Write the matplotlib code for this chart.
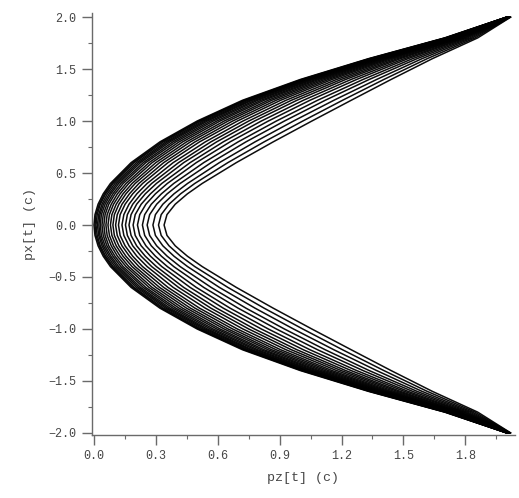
import numpy as np
import matplotlib
matplotlib.use("Agg")
import matplotlib.pyplot as plt
from matplotlib.ticker import MultipleLocator

# |px| sample positions (upper branch); lower branch mirrors them
px_abs = [0.0, 0.1, 0.2, 0.3, 0.4, 0.6, 0.8, 1.0, 1.2, 1.4, 1.6, 1.8, 2.0]

# pz values of each trajectory at the px_abs positions (outer -> inner)
curve_01 = [0.000, 0.005, 0.020, 0.045, 0.080, 0.180, 0.320, 0.500, 0.720, 1.000, 1.330, 1.700, 2.000]
curve_02 = [0.005, 0.010, 0.026, 0.051, 0.087, 0.188, 0.328, 0.508, 0.728, 1.007, 1.335, 1.702, 2.000]
curve_03 = [0.010, 0.016, 0.031, 0.057, 0.093, 0.195, 0.337, 0.517, 0.736, 1.013, 1.339, 1.705, 2.001]
curve_04 = [0.017, 0.023, 0.039, 0.065, 0.102, 0.206, 0.348, 0.528, 0.746, 1.022, 1.346, 1.708, 2.001]
curve_05 = [0.024, 0.029, 0.046, 0.074, 0.111, 0.216, 0.358, 0.539, 0.757, 1.031, 1.352, 1.711, 2.001]
curve_06 = [0.031, 0.036, 0.054, 0.082, 0.120, 0.226, 0.369, 0.550, 0.767, 1.040, 1.358, 1.714, 2.002]
curve_07 = [0.039, 0.045, 0.063, 0.092, 0.131, 0.239, 0.383, 0.564, 0.781, 1.051, 1.366, 1.718, 2.002]
curve_08 = [0.048, 0.054, 0.072, 0.102, 0.142, 0.251, 0.397, 0.578, 0.794, 1.062, 1.373, 1.722, 2.003]
curve_09 = [0.058, 0.064, 0.084, 0.114, 0.156, 0.267, 0.413, 0.595, 0.810, 1.075, 1.383, 1.727, 2.003]
curve_10 = [0.068, 0.075, 0.095, 0.127, 0.169, 0.282, 0.430, 0.611, 0.825, 1.088, 1.392, 1.732, 2.004]
curve_11 = [0.080, 0.087, 0.108, 0.141, 0.185, 0.300, 0.449, 0.631, 0.844, 1.103, 1.403, 1.738, 2.005]
curve_12 = [0.092, 0.099, 0.121, 0.155, 0.200, 0.318, 0.468, 0.650, 0.862, 1.119, 1.414, 1.743, 2.005]
curve_13 = [0.105, 0.113, 0.136, 0.172, 0.218, 0.338, 0.490, 0.672, 0.883, 1.136, 1.426, 1.750, 2.006]
curve_14 = [0.119, 0.127, 0.151, 0.188, 0.236, 0.359, 0.512, 0.695, 0.905, 1.154, 1.439, 1.756, 2.007]
curve_15 = [0.136, 0.145, 0.170, 0.208, 0.258, 0.384, 0.540, 0.722, 0.931, 1.176, 1.454, 1.764, 2.008]
curve_16 = [0.153, 0.162, 0.188, 0.229, 0.280, 0.410, 0.567, 0.750, 0.957, 1.198, 1.470, 1.772, 2.009]
curve_17 = [0.170, 0.180, 0.207, 0.249, 0.303, 0.435, 0.595, 0.778, 0.984, 1.220, 1.485, 1.780, 2.010]
curve_18 = [0.190, 0.200, 0.229, 0.274, 0.329, 0.466, 0.627, 0.811, 1.015, 1.246, 1.504, 1.790, 2.011]
curve_19 = [0.211, 0.222, 0.252, 0.298, 0.356, 0.496, 0.660, 0.845, 1.047, 1.273, 1.522, 1.799, 2.012]
curve_20 = [0.235, 0.246, 0.278, 0.327, 0.387, 0.532, 0.699, 0.884, 1.084, 1.304, 1.544, 1.810, 2.014]
curve_21 = [0.258, 0.270, 0.304, 0.355, 0.418, 0.568, 0.737, 0.923, 1.121, 1.334, 1.566, 1.822, 2.015]
curve_22 = [0.286, 0.298, 0.334, 0.388, 0.454, 0.608, 0.781, 0.967, 1.163, 1.370, 1.590, 1.834, 2.017]
curve_23 = [0.313, 0.326, 0.364, 0.420, 0.489, 0.649, 0.825, 1.012, 1.205, 1.405, 1.615, 1.847, 2.018]
curve_24 = [0.340, 0.354, 0.394, 0.453, 0.525, 0.690, 0.869, 1.056, 1.247, 1.440, 1.640, 1.860, 2.020]

curves = [curve_01, curve_02, curve_03, curve_04, curve_05, curve_06, curve_07, curve_08,
          curve_09, curve_10, curve_11, curve_12, curve_13, curve_14, curve_15, curve_16,
          curve_17, curve_18, curve_19, curve_20, curve_21, curve_22, curve_23, curve_24]

x_ticks = [0.0, 0.3, 0.6, 0.9, 1.2, 1.5, 1.8]
y_ticks = [-2.0, -1.5, -1.0, -0.5, 0.0, 0.5, 1.0, 1.5, 2.0]

fig = plt.figure(figsize=(5.19, 4.98), dpi=100)
ax = fig.add_axes([0.177, 0.1265, 0.815, 0.8475])

pa = np.array(px_abs)
px_full = np.concatenate([-pa[::-1], pa[1:]])
for c in curves:
    c = np.array(c)
    pz_full = np.concatenate([c[::-1], c[1:]])
    ax.plot(pz_full, px_full, color="black", lw=1.1, alpha=0.95)

ax.set_xlim(-0.01, 2.04)
ax.set_ylim(-2.02, 2.04)
ax.set_xticks(x_ticks)
ax.set_yticks(y_ticks)
ax.set_xticklabels([f"{v:.1f}" for v in x_ticks])
ax.set_yticklabels([f"{v:.1f}".replace("-", "\u2212") for v in y_ticks])
ax.xaxis.set_minor_locator(MultipleLocator(0.15))
ax.yaxis.set_minor_locator(MultipleLocator(0.25))

gray = "#6a6a6a"
for s in ["top", "right"]:
    ax.spines[s].set_visible(False)
for s in ["left", "bottom"]:
    ax.spines[s].set_color(gray)
    ax.spines[s].set_linewidth(1.0)
ax.tick_params(which="major", direction="out", length=7, width=1.0, color=gray,
               labelcolor="#454545", pad=4)
ax.tick_params(which="minor", direction="out", length=3, width=0.8, color=gray)
for lab in ax.get_xticklabels() + ax.get_yticklabels():
    lab.set_family("Liberation Mono")
    lab.set_fontsize(8.5)

ax.set_xlabel("pz[t] (c)", family="Liberation Mono", fontsize=9.5, color="#454545", labelpad=7)
ax.set_ylabel("px[t] (c)", family="Liberation Mono", fontsize=9.5, color="#454545", labelpad=9)

fig.savefig("out.png", dpi=100)
